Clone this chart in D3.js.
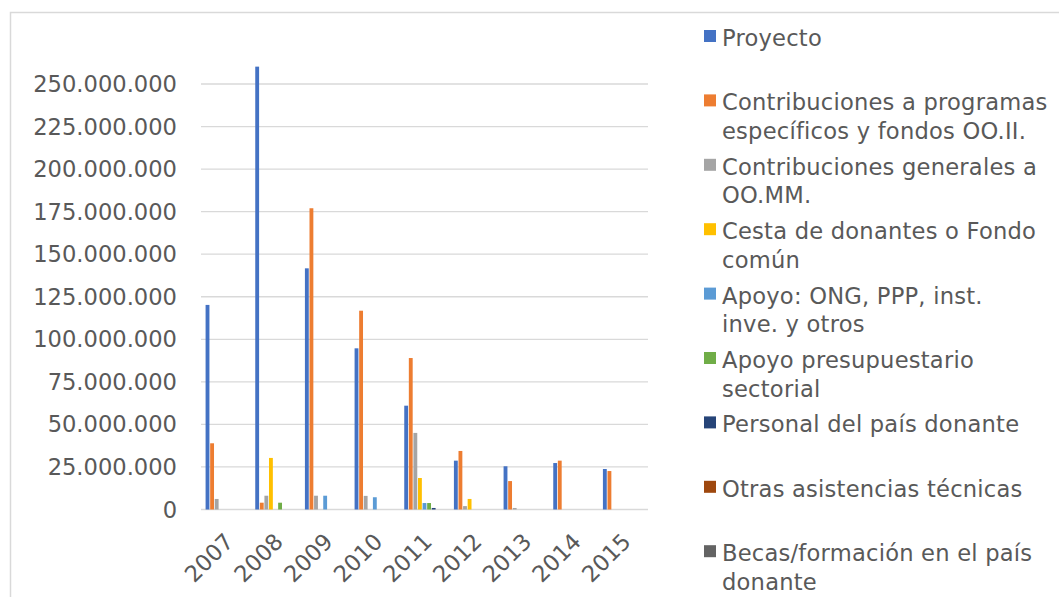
<!DOCTYPE html>
<html>
<head>
<meta charset="utf-8">
<script src="https://cdn.jsdelivr.net/npm/d3@7"></script>
<style>
body { margin: 0; background: #fff; }
svg text { font-family: "DejaVu Sans", Verdana, sans-serif; fill: #595959; }
</style>
</head>
<body>
<svg id="chart" width="1059" height="597"></svg>
<script>
var years = ['2007', '2008', '2009', '2010', '2011', '2012', '2013', '2014', '2015'];
var seriesNames = [
	['Proyecto'],
	['Contribuciones a programas', 'específicos y fondos OO.II.'],
	['Contribuciones generales a', 'OO.MM.'],
	['Cesta de donantes o Fondo', 'común'],
	['Apoyo: ONG, PPP, inst.', 'inve. y otros'],
	['Apoyo presupuestario', 'sectorial'],
	['Personal del país donante'],
	['Otras asistencias técnicas'],
	['Becas/formación en el país', 'donante']
];
var colors = ['#4472C4', '#ED7D31', '#A5A5A5', '#FFC000', '#5B9BD5', '#70AD47', '#264478', '#9E480E', '#636363'];

// one array per series, values per year
var proyecto      = [120200000, 260200000, 141700000, 94700000, 61000000, 28700000, 25400000, 27300000, 23800000];
var contribProg   = [38900000, 4000000, 177000000, 116800000, 89000000, 34400000, 16700000, 28700000, 22600000];
var contribGen    = [6200000, 8100000, 8100000, 8000000, 45000000, 2000000, 900000, 0, 0];
var cesta         = [0, 30300000, 0, 0, 18500000, 6200000, 0, 0, 0];
var apoyoOng      = [0, 0, 8100000, 7200000, 3800000, 0, 0, 0, 0];
var apoyoPresup   = [0, 4000000, 0, 0, 3800000, 0, 0, 0, 0];
var personal      = [0, 0, 0, 0, 900000, 0, 0, 0, 0];
var otras         = [0, 0, 0, 0, 0, 0, 0, 0, 0];
var becas         = [0, 0, 0, 0, 0, 0, 0, 0, 0];
var seriesValues = [proyecto, contribProg, contribGen, cesta, apoyoOng, apoyoPresup, personal, otras, becas];
var yTicks = [0, 25000000, 50000000, 75000000, 100000000, 125000000, 150000000, 175000000, 200000000, 225000000, 250000000];

var svg = d3.select('#chart');
var left = 201, right = 648, bottom = 509.5, top250 = 84;

// frame
svg.append('rect')
	.attr('x', 10.5).attr('y', 12.5)
	.attr('width', 1200).attr('height', 800)
	.attr('fill', 'none').attr('stroke', '#d9d9d9').attr('stroke-width', 1.5);

var y = d3.scaleLinear().domain([0, 250000000]).range([bottom, top250]);
var x0 = d3.scaleBand().domain(years).range([left, right]);
var pad = (x0.bandwidth() - 9 * 4.5) / 2;
var x1 = d3.scaleBand().domain(d3.range(9)).range([pad, x0.bandwidth() - pad]).paddingInner(0.16);

var loc = d3.formatLocale({decimal: ',', thousands: '.', grouping: [3], currency: ['', '']});
var fmt = loc.format(',');

// gridlines
svg.append('g').selectAll('line')
	.data(yTicks)
	.join('line')
	.attr('x1', left).attr('x2', right)
	.attr('y1', function(d){ return y(d); })
	.attr('y2', function(d){ return y(d); })
	.attr('stroke', '#d9d9d9')
	.attr('stroke-width', 1.3);

// y labels
svg.append('g').selectAll('text')
	.data(yTicks)
	.join('text')
	.attr('x', 177)
	.attr('y', function(d){ return y(d) + 8; })
	.attr('text-anchor', 'end')
	.attr('font-size', '22.6px')
	.text(function(d){ return fmt(d); });

// bars
var groups = svg.append('g').selectAll('g')
	.data(years)
	.join('g')
	.attr('transform', function(d){ return 'translate(' + x0(d) + ',0)'; });

groups.selectAll('rect')
	.data(function(d, i){ return seriesValues.map(function(s, k){ return {k: k, v: s[i]}; }).filter(function(e){ return e.v > 0; }); })
	.join('rect')
	.attr('x', function(d){ return x1(d.k); })
	.attr('width', x1.bandwidth())
	.attr('y', function(d){ return y(d.v); })
	.attr('height', function(d){ return bottom - y(d.v); })
	.attr('fill', function(d){ return colors[d.k]; });

// x labels
svg.append('g').selectAll('text')
	.data(years)
	.join('text')
	.attr('transform', function(d){ return 'translate(' + (x0(d) + x0.bandwidth() / 2 + 9) + ',543) rotate(-45)'; })
	.attr('text-anchor', 'end')
	.attr('font-size', '22.6px')
	.text(function(d){ return d; });

// legend
var legend = svg.append('g').selectAll('g')
	.data(seriesNames)
	.join('g')
	.attr('transform', function(d, i){ return 'translate(0,' + (46 + 64.4 * i) + ')'; });

legend.append('rect')
	.attr('x', 704).attr('y', -16)
	.attr('width', 12).attr('height', 12)
	.attr('fill', function(d, i){ return colors[i]; });

legend.each(function(lines){
	var g = d3.select(this);
	lines.forEach(function(t, j){
		g.append('text')
			.attr('x', 722)
			.attr('y', j * 28.5)
			.attr('font-size', '22.6px')
			.attr('letter-spacing', '0.22px')
			.text(t);
	});
});
</script>
</body>
</html>
